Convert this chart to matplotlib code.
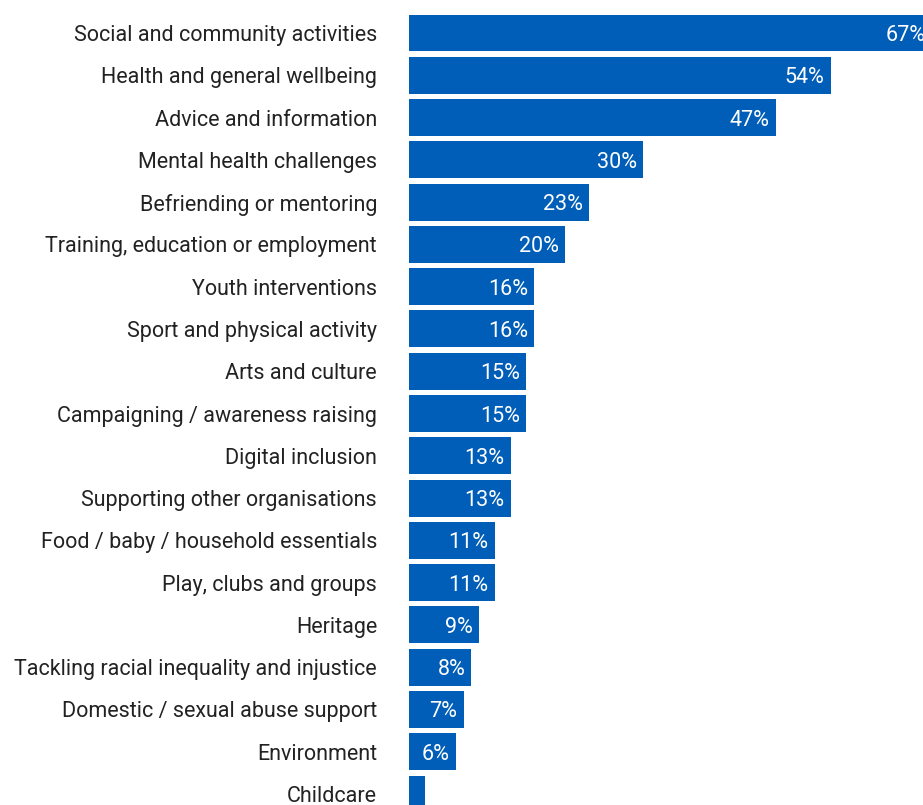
import matplotlib.pyplot as plt

plt.rcParams['font.family'] = ['Roboto', 'DejaVu Sans']

categories = [
    "Social and community activities",
    "Health and general wellbeing",
    "Advice and information",
    "Mental health challenges",
    "Befriending or mentoring",
    "Training, education or employment",
    "Youth interventions",
    "Sport and physical activity",
    "Arts and culture",
    "Campaigning / awareness raising",
    "Digital inclusion",
    "Supporting other organisations",
    "Food / baby / household essentials",
    "Play, clubs and groups",
    "Heritage",
    "Tackling racial inequality and injustice",
    "Domestic / sexual abuse support",
    "Environment",
    "Childcare",
]
values = [67, 54, 47, 30, 23, 20, 16, 16, 15, 15, 13, 13, 11, 11, 9, 8, 7, 6, 2]

bar_color = "#005EB8"

fig = plt.figure(figsize=(9.23, 8.05), dpi=100)
# axes starts at the bar baseline and runs off the right/bottom like the cropped original
ax = fig.add_axes([409 / 923, 0, 1 - 409 / 923, 1])

ypos = list(range(len(categories)))
ax.barh(ypos, values, height=0.875, color=bar_color, clip_on=False)

for y, v in zip(ypos, values):
    if v >= 5:
        ax.text(v - 0.8, y, f"{v}%", ha="right", va="center_baseline",
                color="white", fontsize=15.5, clip_on=False)

ax.set_xlim(0, (923 - 409) / 7.81)
ax.set_ylim((805 - 33) / 42.28, -33 / 42.28)

ax.set_yticks(ypos)
ax.set_yticklabels(categories, fontsize=15.5, color="#222222", va="center_baseline")
ax.tick_params(axis="y", length=0, pad=23)
ax.set_xticks([])
for s in ax.spines.values():
    s.set_visible(False)

plt.savefig("out.png", dpi=100)
plt.close()
